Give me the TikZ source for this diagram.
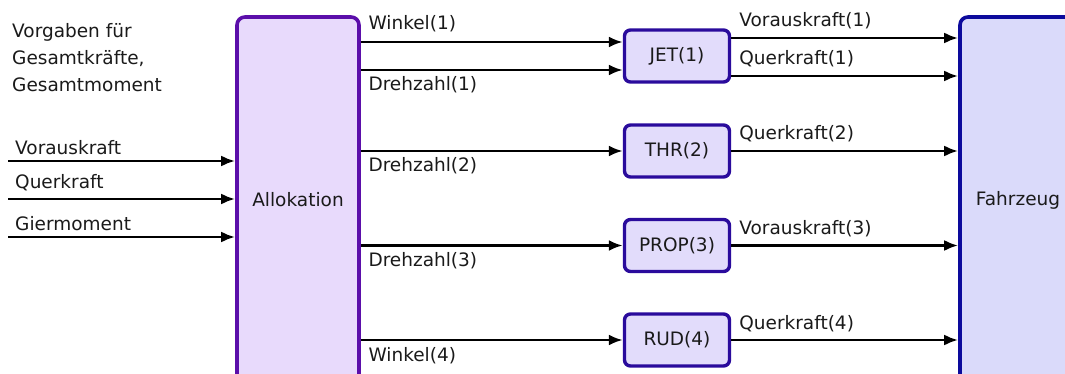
\documentclass[tikz,border=0pt]{standalone}
\usepackage{fontspec}
\setmainfont{DejaVu Sans}
\usetikzlibrary{arrows.meta,calc}
\definecolor{allocfill}{HTML}{E8DAFC}
\definecolor{allocdraw}{HTML}{5B0EAA}
\definecolor{unitfill}{HTML}{E2DCFB}
\definecolor{unitdraw}{HTML}{2A0B9C}
\definecolor{vehfill}{HTML}{DADAFA}
\definecolor{vehdraw}{HTML}{0C0A9C}
\definecolor{ink}{HTML}{1A1A1A}
\begin{document}
\begin{tikzpicture}[x=1pt,y=-1pt,
  font=\fontsize{18.5}{27}\selectfont, text=ink,
  flow/.style={line width=2.8pt,-{Latex[length=14pt,width=11pt]}},
  unit/.style={draw=unitdraw,fill=unitfill,line width=3.4pt,rounded corners=6pt,
    minimum width=105pt,minimum height=52pt,inner sep=0pt},
  bigbox/.style={rounded corners=8pt,line width=3.6pt,minimum width=122pt,
    minimum height=366pt,inner sep=0pt},
  lbl/.style={inner sep=0pt,anchor=base west}]
\useasboundingbox (0,0) rectangle (1065,374);
\clip (0,0) rectangle (1065,374);

% main blocks
\node[bigbox,draw=allocdraw,fill=allocfill] (alloc) at (298,200) {Allokation};
\node[bigbox,draw=vehdraw,fill=vehfill,minimum width=116pt] (veh) at (1018,200) {Fahrzeug};

% actuator blocks
\node[unit] (jet)  at (677,56)    {JET(1)};
\node[unit] (thr)  at (677,151)   {THR(2)};
\node[unit] (prop) at (677,245.5) {PROP(3)};
\node[unit] (rud)  at (677,340)   {RUD(4)};

% heading text
\node[inner sep=0pt,anchor=north west,align=left] (spec) at (12,23)
  {Vorgaben für\\Gesamtkräfte,\\Gesamtmoment};

% demanded forces into the allocation
\coordinate (in1) at (8,161);
\coordinate (in2) at (8,199);
\coordinate (in3) at (8,237);
\draw[flow] (in1) -- (in1 -| alloc.west);
\draw[flow] (in2) -- (in2 -| alloc.west);
\draw[flow] (in3) -- (in3 -| alloc.west);
\node[lbl] (lin1) at ($(in1)+(7,-6)$)  {Vorauskraft};
\node[lbl] (lin2) at ($(in2)+(7,-10)$) {Querkraft};
\node[lbl] (lin3) at ($(in3)+(7,-7)$)  {Giermoment};

% commands from the allocation to the actuators
\coordinate (a1) at ($(jet.west)+(0,-14)$);
\coordinate (a2) at ($(jet.west)+(0,14)$);
\coordinate (a3) at (thr.west);
\coordinate (a4) at (prop.west);
\coordinate (a5) at (rud.west);
\foreach \i in {1,...,5} {
  \coordinate (s\i) at (a\i -| alloc.east);
  \draw[flow] (s\i) -- (a\i);
}
\node[lbl] (lw1) at ($(s1)+(7.5,-12)$) {Winkel(1)};
\node[lbl] (ld1) at ($(s2)+(7.5,21)$)  {Drehzahl(1)};
\node[lbl] (ld2) at ($(s3)+(7.5,21)$)  {Drehzahl(2)};
\node[lbl] (ld3) at ($(s4)+(7.5,21)$)  {Drehzahl(3)};
\node[lbl] (lw4) at ($(s5)+(7.5,21)$)  {Winkel(4)};

% forces from the actuators to the vessel
\coordinate (o1) at ($(jet.east)+(0,-18)$);
\coordinate (o2) at ($(jet.east)+(0,20)$);
\coordinate (o3) at (thr.east);
\coordinate (o4) at (prop.east);
\coordinate (o5) at (rud.east);
\foreach \i in {1,...,5} {
  \draw[flow] (o\i) -- (o\i -| veh.west);
}
\node[lbl] (lv1) at ($(o1)+(8,-11)$) {Vorauskraft(1)};
\node[lbl] (lq1) at ($(o2)+(8,-11)$) {Querkraft(1)};
\node[lbl] (lq2) at ($(o3)+(8,-11)$) {Querkraft(2)};
\node[lbl] (lv3) at ($(o4)+(8,-11)$) {Vorauskraft(3)};
\node[lbl] (lq4) at ($(o5)+(8,-11)$) {Querkraft(4)};
\end{tikzpicture}
\end{document}
